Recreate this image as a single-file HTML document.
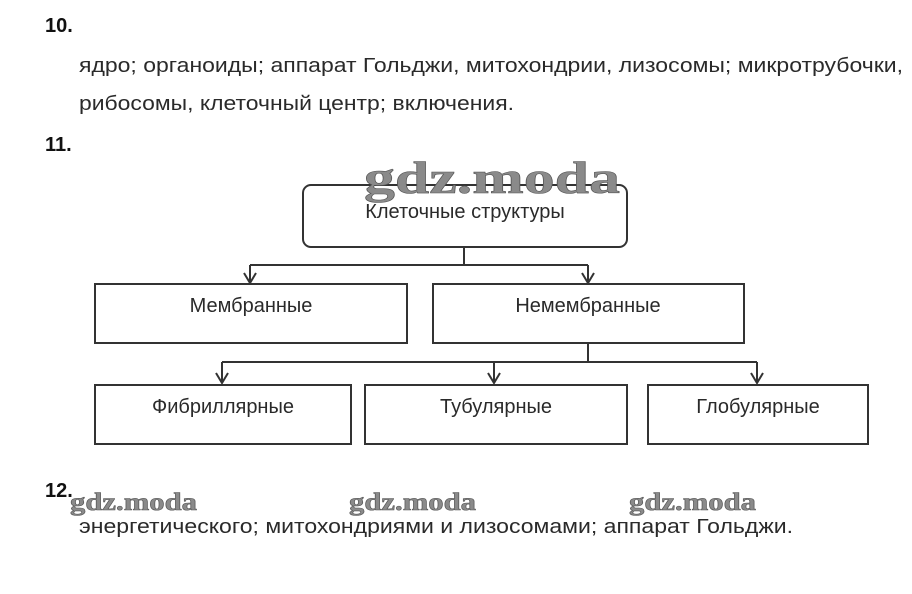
<!DOCTYPE html>
<html><head><meta charset="utf-8"><style>
html,body{margin:0;padding:0;background:#fff;}
svg{display:block;}
.t{font-family:"Liberation Sans",sans-serif;font-size:20px;fill:#2a2a2a;}
.b{font-family:"Liberation Sans",sans-serif;font-size:20px;font-weight:bold;fill:#111;}
.w{font-family:"Liberation Serif",serif;font-weight:bold;fill:#8a8a8a;stroke:#555;stroke-width:0.6;}
</style></head><body>
<svg width="912" height="594" viewBox="0 0 912 594" xmlns="http://www.w3.org/2000/svg">
<text class="b" x="45" y="32">10.</text>
<text class="t" x="79" y="72" textLength="824" lengthAdjust="spacingAndGlyphs">ядро; органоиды; аппарат Гольджи, митохондрии, лизосомы; микротрубочки,</text>
<text class="t" x="79" y="110" textLength="435" lengthAdjust="spacingAndGlyphs">рибосомы, клеточный центр; включения.</text>
<text class="b" x="45" y="151">11.</text>

<g fill="none" stroke="#333" stroke-width="2">
<rect x="303" y="185" width="324" height="62" rx="8"/>
<rect x="95" y="284" width="312" height="59"/>
<rect x="433" y="284" width="311" height="59"/>
<rect x="95" y="385" width="256" height="59"/>
<rect x="365" y="385" width="262" height="59"/>
<rect x="648" y="385" width="220" height="59"/>
<path d="M464 247V265M250 265H588M250 265V283M588 265V283"/>
<path d="M244 273L250 283L256 273M582 273L588 283L594 273"/>
<path d="M588 343V362M222 362H757M222 362V383M494 362V383M757 362V383"/>
<path d="M216 373L222 383L228 373M488 373L494 383L500 373M751 373L757 383L763 373"/>
</g>
<text class="w" x="364" y="193" font-size="46" textLength="256" lengthAdjust="spacingAndGlyphs">gdz.moda</text>
<text class="t" x="465" y="218" text-anchor="middle">Клеточные структуры</text>
<text class="t" x="251" y="312" text-anchor="middle">Мембранные</text>
<text class="t" x="588" y="312" text-anchor="middle">Немембранные</text>
<text class="t" x="223" y="413" text-anchor="middle">Фибриллярные</text>
<text class="t" x="496" y="413" text-anchor="middle">Тубулярные</text>
<text class="t" x="758" y="413" text-anchor="middle">Глобулярные</text>

<text class="b" x="45" y="497">12.</text>
<text class="w" x="70" y="510" font-size="25" textLength="127" lengthAdjust="spacingAndGlyphs">gdz.moda</text>
<text class="w" x="349" y="510" font-size="25" textLength="127" lengthAdjust="spacingAndGlyphs">gdz.moda</text>
<text class="w" x="629" y="510" font-size="25" textLength="127" lengthAdjust="spacingAndGlyphs">gdz.moda</text>
<text class="t" x="79" y="533" textLength="714" lengthAdjust="spacingAndGlyphs">энергетического; митохондриями и лизосомами; аппарат Гольджи.</text>
</svg>
</body></html>
